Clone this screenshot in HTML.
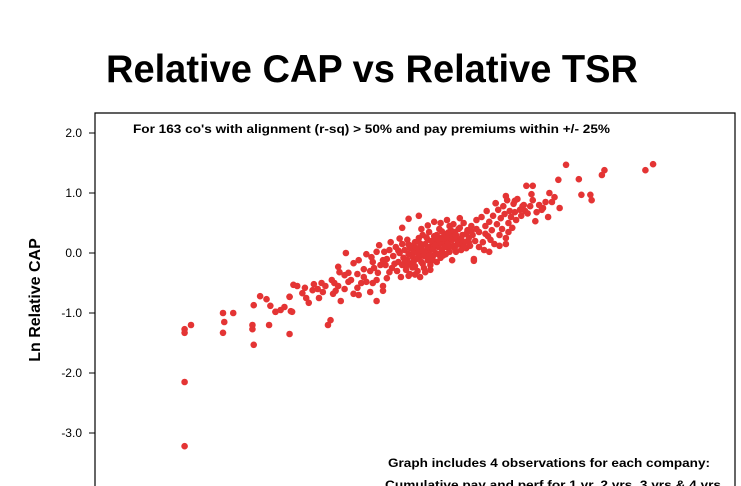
<!DOCTYPE html>
<html><head><meta charset="utf-8"><style>
html,body{margin:0;padding:0;background:#fff;width:741px;height:486px;overflow:hidden;}
svg{display:block;font-family:"Liberation Sans",Arial,sans-serif;overflow:hidden;}
</style></head><body>
<svg id="chart" width="741" height="486" viewBox="0 0 741 486">
<text x="372" y="82" text-anchor="middle" font-size="39" font-weight="bold" textLength="532" lengthAdjust="spacingAndGlyphs">Relative CAP vs Relative TSR</text>
<path d="M95,486 V113 H735 V486" fill="none" stroke="#000" stroke-width="1.2"/>
<text x="133" y="133" font-size="12" font-weight="bold" textLength="477" lengthAdjust="spacingAndGlyphs">For 163 co's with alignment (r-sq) &gt; 50% and pay premiums within +/- 25%</text>
<text transform="translate(40,300) rotate(-90)" text-anchor="middle" font-size="16" font-weight="bold">Ln Relative CAP</text>
<g id="yaxis"></g>
<g id="points"></g>
<text x="549" y="467" text-anchor="middle" font-size="12" font-weight="bold" textLength="322" lengthAdjust="spacingAndGlyphs">Graph includes 4 observations for each company:</text>
<text x="553" y="489" text-anchor="middle" font-size="12" font-weight="bold" textLength="336" lengthAdjust="spacingAndGlyphs">Cumulative pay and perf for 1 yr, 2 yrs, 3 yrs &amp; 4 yrs</text>
</svg>
<script>
const yTicks=[2,1,0,-1,-2,-3];
const yTickLabels=["2.0","1.0","0.0","-1.0","-2.0","-3.0"];
const xs=[-1.80,-1.80,-1.75,-1.80,-1.80,-1.50,-1.49,-1.50,-1.42,-1.27,-1.27,-1.26,-1.14,-0.98,-0.97,-0.68,-0.66,-1.26,-1.21,-1.16,-1.13,-1.09,-0.98,
1.86,1.80,1.48,1.46,1.18,1.28,1.12,1.30,1.37,1.38,0.87,0.92,0.91,1.05,1.09,1.07,1.13,1.04,0.94,0.99,0.84,0.78,0.71,0.63,0.73,0.71,0.58,0.46,0.03,-0.05,-0.10,-0.54,-0.30,-0.25,-0.05,-0.58,-0.83,-0.96,-1.09,-0.95,-0.92,-0.98,-0.88,-0.85,-0.79,-0.73,-0.76,-0.75,-0.64,-0.62,-0.63,-0.60,-0.59,-0.55,-0.52,-0.52,-0.48,-0.44,-0.45,-0.42,-0.38,-0.35,-0.33,-0.48,-0.44,-0.38,-0.34,-0.28,-0.40,-0.32,-0.29,
-0.22,-0.20,-0.18,-0.17,-0.15,-0.14,-0.13,-0.12,-0.11,-0.10,-0.10,-0.09,-0.08,-0.07,-0.06,-0.06,-0.05,-0.04,-0.04,-0.03,-0.02,-0.02,-0.01,0.00,0.00,0.01,0.02,0.02,0.03,0.04,0.05,0.05,0.06,0.07,0.07,0.08,0.09,0.10,0.10,0.11,0.12,0.12,0.13,0.14,0.15,0.15,0.16,0.17,0.18,0.19,0.20,0.20,0.21,0.22,0.23,0.24,0.25,0.26,0.27,0.28,0.29,0.30,0.31,0.32,0.33,0.34,0.35,0.36,0.37,0.38,0.39,0.40,0.41,0.42,0.43,0.44,0.45,0.46,0.47,0.48,
-0.16,-0.13,-0.08,-0.05,-0.01,0.01,0.03,0.04,0.06,0.08,0.09,0.11,0.13,0.14,0.16,0.17,0.18,0.19,0.21,0.22,0.23,0.24,0.26,0.27,0.28,0.29,0.31,0.32,0.33,0.35,0.36,0.38,0.40,0.42,0.44,0.02,0.06,0.10,0.14,0.18,0.22,0.26,-0.02,-0.06,0.00,0.04,0.08,0.12,-0.20,-0.23,-0.24,-0.19,-0.12,0.05,0.10,0.15,0.20,0.25,0.30,0.35,
0.50,0.52,0.53,0.55,0.56,0.57,0.58,0.60,0.61,0.62,0.63,0.64,0.65,0.66,0.67,0.68,0.69,0.70,0.71,0.72,0.73,0.74,0.75,0.76,0.77,0.78,0.79,0.80,0.82,0.83,0.85,0.86,0.88,0.90,0.92,0.95,0.97,1.00,1.02,0.50,0.48,0.54,0.59,0.66,0.55,
-0.30,-0.27,-0.25,-0.22,-0.35,-0.40,-0.45,-0.50,-0.55,-0.60,-0.65,-0.70,-0.72,-0.80,-0.86,-1.02,-1.05,-0.30,-0.25,-0.33];
const ys=[-1.27,-1.33,-1.20,-2.15,-3.22,-1.00,-1.15,-1.33,-1.00,-1.20,-1.27,-1.53,-1.20,-1.35,-0.97,-1.20,-1.12,-0.87,-0.72,-0.77,-0.88,-0.98,-0.73,
1.48,1.38,1.38,1.30,1.47,1.23,1.22,0.97,0.97,0.88,1.12,1.12,0.98,1.00,0.93,0.85,0.75,0.60,0.53,0.72,0.78,0.87,0.95,0.83,0.35,0.15,0.02,-0.13,0.62,0.57,0.42,0.00,-0.80,-0.63,-0.38,-0.80,-0.83,-0.98,-0.98,-0.53,-0.55,-0.73,-0.67,-0.75,-0.52,-0.50,-0.60,-0.75,-0.68,-0.63,-0.50,-0.23,-0.32,-0.37,-0.33,-0.48,-0.68,-0.70,-0.58,-0.50,-0.48,-0.65,-0.50,-0.17,-0.12,-0.02,-0.07,0.13,-0.27,-0.25,-0.33,
-0.10,0.05,-0.25,-0.05,0.10,-0.30,-0.15,0.00,-0.40,0.15,-0.20,-0.08,0.05,-0.28,0.22,-0.12,-0.02,0.08,-0.35,-0.18,0.12,-0.06,0.02,-0.22,0.18,-0.10,0.06,-0.30,0.25,-0.02,-0.15,0.10,0.30,-0.05,-0.25,0.15,0.02,-0.12,0.22,0.35,0.05,-0.20,0.12,-0.05,0.28,0.18,0.00,-0.15,0.10,0.40,0.25,-0.08,0.05,0.15,0.32,-0.02,0.20,0.08,0.45,0.28,-0.12,0.12,0.35,0.02,0.22,0.40,0.15,0.05,0.30,0.50,0.18,0.08,0.38,0.25,0.12,0.45,0.30,-0.10,0.20,0.55,
-0.18,0.04,-0.16,0.14,-0.14,0.08,-0.08,0.16,-0.18,0.00,0.26,-0.04,0.20,-0.12,0.14,0.30,-0.02,0.18,0.36,-0.04,0.10,0.28,0.16,0.02,0.38,0.22,0.08,0.30,0.14,0.42,0.24,0.10,0.32,0.18,0.36,0.00,0.04,0.10,0.06,0.22,0.24,0.34,-0.24,-0.20,-0.36,-0.40,-0.32,-0.28,-0.32,-0.20,0.02,0.18,0.24,0.40,0.46,0.52,0.50,0.55,0.48,0.58,
0.35,0.60,0.18,0.45,0.70,0.28,0.52,0.38,0.62,0.15,0.83,0.48,0.72,0.30,0.58,0.40,0.78,0.65,0.25,0.88,0.50,0.70,0.60,0.42,0.82,0.68,0.55,0.90,0.72,0.62,0.80,0.70,0.66,0.78,0.88,0.68,0.80,0.75,0.85,0.10,0.40,0.05,0.22,0.12,0.32,
-0.45,-0.20,-0.55,-0.42,-0.30,-0.40,-0.35,-0.45,-0.60,-0.55,-0.45,-0.55,-0.65,-0.62,-0.58,-0.90,-0.95,0.02,-0.12,-0.15];
const NS="http://www.w3.org/2000/svg";
function xScale(v){return 415+v*128;}
function yScale(v){return 253-v*60;}
const ya=document.getElementById('yaxis');
yTicks.forEach((t,i)=>{
  const l=document.createElementNS(NS,'line');
  
  
  l.setAttribute('x1',89);l.setAttribute('x2',95);
  l.setAttribute('y1',yScale(t));l.setAttribute('y2',yScale(t));
  l.setAttribute('stroke','#000');
  ya.appendChild(l);
  const tx=document.createElementNS(NS,'text');
  
  
  tx.setAttribute('x',82);tx.setAttribute('y',yScale(t)+4);
  tx.setAttribute('text-anchor','end');tx.setAttribute('font-size','12');
  tx.textContent=yTickLabels[i];
  ya.appendChild(tx);
});
const pg=document.getElementById('points');
for(let i=0;i<xs.length;i++){
  const c=document.createElementNS(NS,'circle');
  
  
  c.setAttribute('cx',xScale(xs[i]));
  c.setAttribute('cy',yScale(ys[i]));
  c.setAttribute('r',3.3);
  c.setAttribute('fill','#e43434');
  pg.appendChild(c);
}
</script>
</body></html>
